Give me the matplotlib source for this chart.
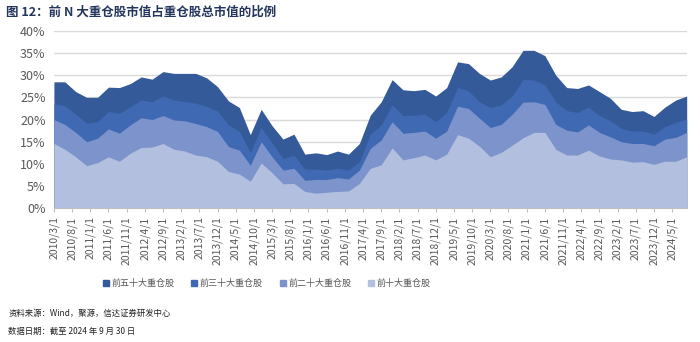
import numpy as np
import pandas as pd
import matplotlib
matplotlib.use("Agg")
import matplotlib.pyplot as plt
from matplotlib.lines import Line2D

plt.rcParams['font.family'] = ['Noto Sans CJK SC', 'DejaVu Sans']

# quarterly observations, 2010/3 .. 2024/9
dates = pd.date_range('2010-03-01', '2024-09-01', freq='QS-MAR')

# share of holdings market value (%), cumulative top N
top50 = [28.5, 28.5, 26.3, 25.0, 25.0, 27.3, 27.2, 28.1, 29.6, 29.1, 30.8, 30.4,
         30.4, 30.4, 29.4, 27.4, 24.2, 22.7, 16.6, 22.3, 18.6, 15.6, 16.7, 12.2,
         12.5, 12.1, 12.9, 12.2, 14.6, 21.0, 24.0, 29.0, 26.7, 26.5, 26.8, 25.3,
         27.2, 33.0, 32.6, 30.4, 28.9, 29.6, 31.9, 35.6, 35.6, 34.4, 30.0, 27.2,
         27.0, 27.8, 26.3, 24.8, 22.3, 21.8, 22.0, 20.7, 22.8, 24.4, 25.3]
top30 = [23.6, 23.1, 21.2, 19.2, 19.5, 21.8, 21.4, 22.9, 24.4, 24.0, 25.3, 24.4,
         24.0, 23.7, 22.9, 21.9, 18.8, 17.3, 12.6, 18.2, 14.7, 11.2, 12.0, 8.8,
         8.8, 8.6, 9.0, 8.6, 10.5, 16.7, 18.8, 23.3, 20.9, 21.0, 21.2, 19.5,
         21.6, 27.2, 26.5, 24.0, 22.7, 23.3, 25.3, 29.0, 28.9, 27.8, 24.0, 22.0,
         21.6, 22.8, 20.9, 19.7, 18.0, 17.4, 17.4, 16.7, 18.4, 19.4, 20.1]
top20 = [20.0, 18.9, 17.1, 15.0, 15.8, 17.9, 16.9, 18.8, 20.4, 20.0, 20.9, 19.9,
         19.7, 19.1, 18.4, 17.3, 13.9, 13.1, 9.7, 15.0, 11.6, 8.6, 9.0, 6.3,
         6.5, 6.5, 6.9, 6.6, 8.6, 13.5, 15.4, 19.5, 16.9, 17.1, 17.4, 15.8,
         17.4, 23.0, 22.5, 20.3, 18.2, 18.9, 21.2, 23.9, 24.0, 23.4, 18.9, 17.6,
         17.2, 18.8, 17.1, 16.1, 15.0, 14.6, 14.6, 14.1, 15.6, 16.0, 17.1]
top10 = [14.6, 13.3, 11.6, 9.6, 10.3, 11.6, 10.6, 12.4, 13.7, 13.8, 14.6, 13.3,
         12.9, 12.0, 11.6, 10.6, 8.3, 7.7, 6.1, 10.2, 8.0, 5.5, 5.6, 3.8,
         3.4, 3.6, 3.8, 3.9, 5.6, 9.0, 9.8, 13.6, 10.9, 11.4, 12.0, 10.9,
         12.2, 16.6, 15.8, 14.0, 11.6, 12.6, 14.2, 15.9, 17.1, 17.1, 13.3, 12.0,
         12.0, 13.1, 11.8, 11.1, 10.9, 10.4, 10.5, 9.9, 10.6, 10.6, 11.6]

series = [('前五十大重仓股', top50, '#355A99'),
          ('前三十大重仓股', top30, '#4069B4'),
          ('前二十大重仓股', top20, '#7C93CB'),
          ('前十大重仓股', top10, '#B3BFDF')]

tick_dates = pd.date_range('2010-03-01', periods=35, freq='5MS')


def month_idx(d):
    return (d.year - 2010) * 12 + d.month - 3


x = np.array([month_idx(d) for d in dates])
xt = [month_idx(d) for d in tick_dates]
xt_labels = [f'{d.year}/{d.month}/1' for d in tick_dates]

fig = plt.figure(figsize=(7, 3.42), dpi=100)
ax = fig.add_axes([0.077, 0.391, 0.904, 0.519])

for name, vals, col in series:
    ax.fill_between(x, 0, np.array(vals) / 100, color=col, lw=0, zorder=2)

ax.set_xlim(0, x[-1])
ax.set_ylim(0, 0.40)
ax.set_yticks(np.arange(0, 0.41, 0.05))
ax.set_yticklabels([f'{int(round(v * 100))}%' for v in np.arange(0, 0.41, 0.05)])
ax.yaxis.grid(True, color='#D9D9D9', lw=1.0, zorder=0)
ax.set_axisbelow(True)
ax.tick_params(axis='y', length=0, labelsize=9, labelcolor='#595959', pad=6)

ax.set_xticks(xt)
ax.set_xticklabels(xt_labels, rotation=90)
ax.tick_params(axis='x', length=3, color='#BFBFBF', labelsize=7.5,
               labelcolor='#595959', pad=3)

for s in ['top', 'right', 'left']:
    ax.spines[s].set_visible(False)
ax.spines['bottom'].set_color('#BFBFBF')
ax.spines['bottom'].set_zorder(3)

handles = [Line2D([], [], ls='none', marker='s', ms=4, color=c) for _, _, c in series]
fig.legend(handles, [n for n, _, _ in series], loc='center',
           bbox_to_anchor=(0.38, 0.172), ncol=4, frameon=False,
           fontsize=6.5, labelcolor='#595959', handletextpad=0.1,
           columnspacing=1.7, handlelength=1.0)

fig.text(0.008, 0.965, '图 12：前 N 大重仓股市值占重仓股总市值的比例',
         fontsize=9, fontweight='bold', color='#24365E', va='center')
fig.text(0.012, 0.085, '资料来源：Wind，聚源，信达证券研发中心',
         fontsize=6.0, color='#222222', va='center', style='italic')
fig.text(0.012, 0.032, '数据日期：截至 2024 年 9 月 30 日',
         fontsize=6.0, color='#222222', va='center', style='italic')

fig.savefig('out.png', dpi=100)
